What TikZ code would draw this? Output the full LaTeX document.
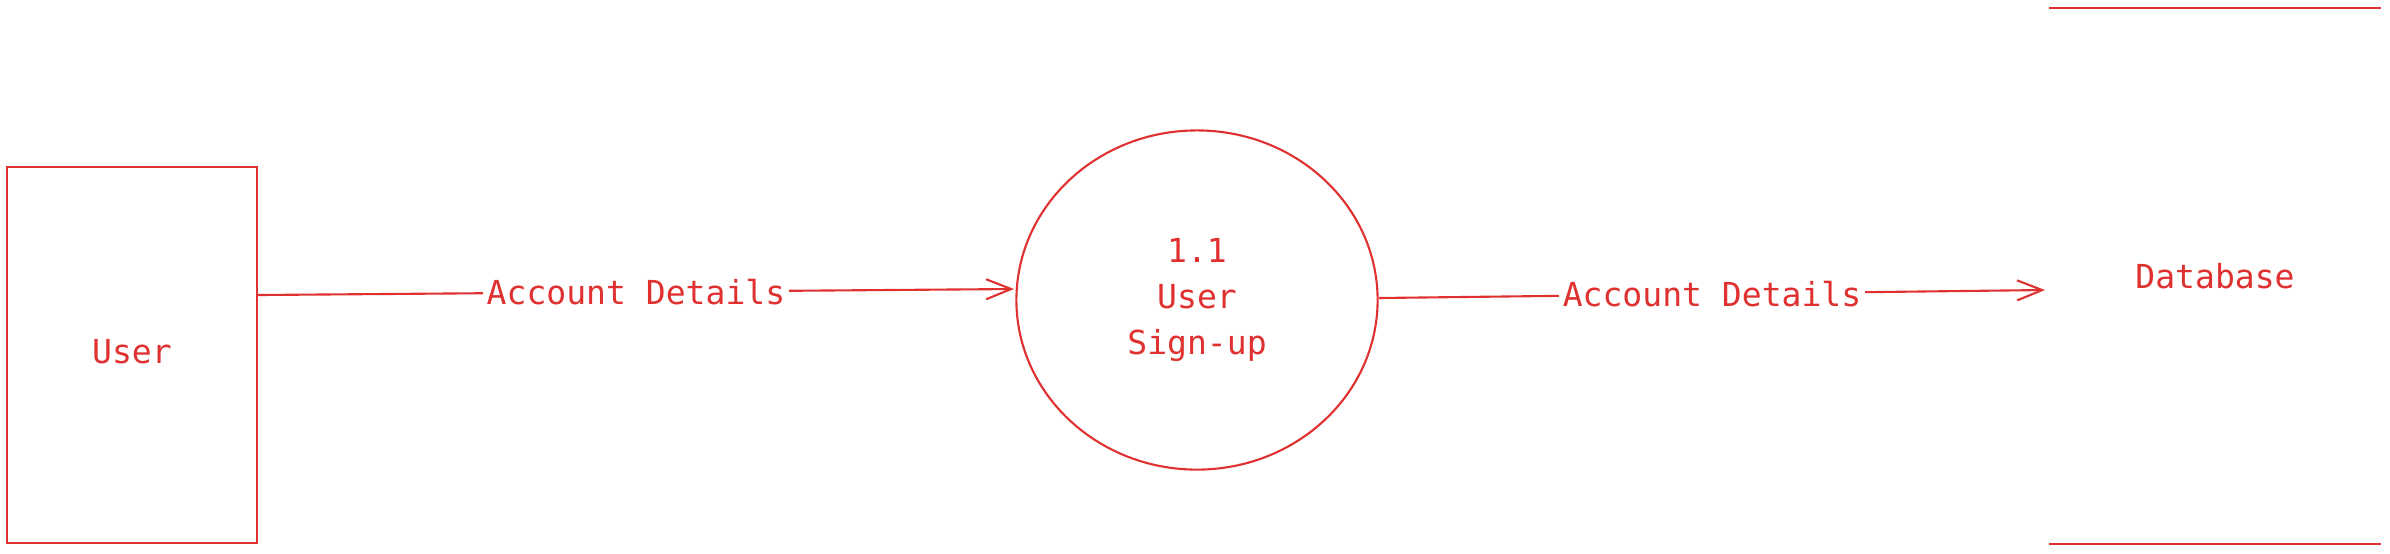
\documentclass[tikz,border=0pt]{standalone}
\usepackage{fontspec}
\setmonofont{DejaVu Sans Mono}
\usetikzlibrary{arrows.meta,shapes.geometric}
\definecolor{exred}{HTML}{E03131}
\tikzset{
  ink/.style={draw=exred, line width=0.6pt},
  lbl/.style={text=exred, font=\ttfamily\fontsize{9.4}{13.1}\selectfont},
  flow/.style={ink, -{Straight Barb[length=0.25cm, width=0.2cm, line width=0.6pt]}},
  flowlbl/.style={lbl, fill=white, inner sep=1pt},
}
\begin{document}
\begin{tikzpicture}[x=0.01cm, y=-0.01cm]
\useasboundingbox (0,0) rectangle (2390,553);
\node[ink, lbl, rectangle, minimum width=2.49cm, minimum height=3.76cm, inner sep=0pt] (user) at (132,355) {};
\node[lbl] (userlbl) at (132,352) {User};
\node[ink, lbl, ellipse, minimum width=3.61cm, minimum height=3.39cm, align=center, inner sep=0pt] (proc) at (1197,300) {1.1\\User\\Sign-up};
\node[lbl, minimum width=3.30cm, minimum height=5.34cm, inner sep=0pt] (db) at (2215,276) {};
\node[lbl] (dblbl) at (2215,276) {Database};
\draw[ink] (db.north west) -- (db.north east);
\draw[ink] (db.south west) -- (db.south east);
\coordinate (a1s) at (258,295);
\coordinate (a1e) at (1014,289);
\coordinate (a2s) at (1379,298);
\coordinate (a2e) at (2045,290);
\draw[flow] (a1s) -- node[flowlbl] (l1) {Account Details} (a1e);
\draw[flow] (a2s) -- node[flowlbl] (l2) {Account Details} (a2e);
\end{tikzpicture}
\end{document}
